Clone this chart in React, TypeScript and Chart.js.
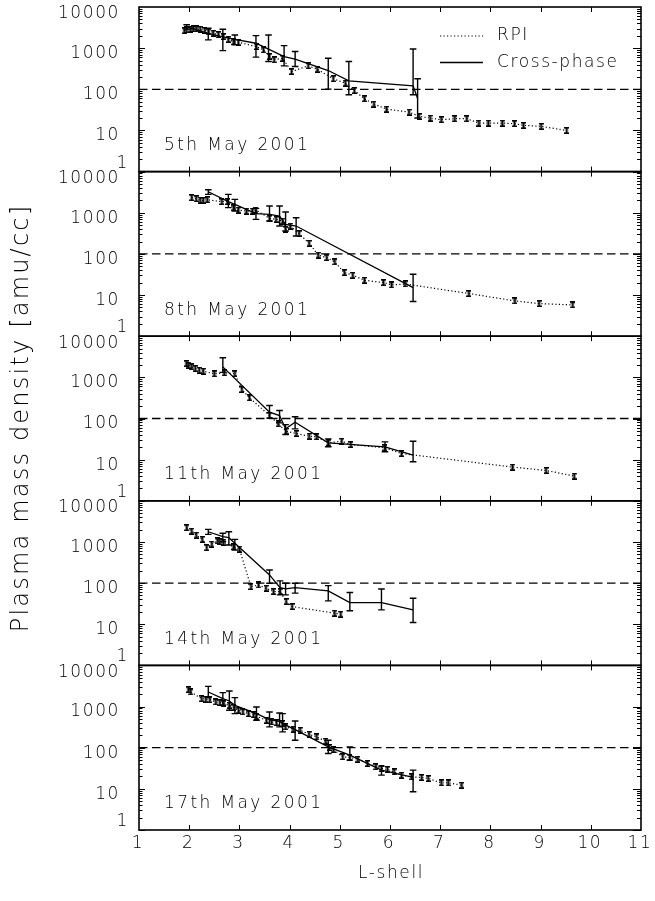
import React, { useEffect, useRef } from "react";
import { Chart, registerables } from "chart.js";
Chart.register(...registerables);

const X_TICKS = [1, 2, 3, 4, 5, 6, 7, 8, 9, 10, 11];
const Y_TICKS = [1, 10, 100, 1000, 10000];
const THRESHOLD = 100;
const PANEL_LABELS = ["5th May 2001", "8th May 2001", "11th May 2001", "14th May 2001", "17th May 2001"];
const X_TITLE = "L-shell";
const Y_TITLE = "Plasma mass density [amu/cc]";
const LEGEND = ["RPI", "Cross-phase"];

// ---- 5th May 2001 ----
const RPI1_L = [1.90, 1.95, 2.02, 2.08, 2.15, 2.22, 2.31, 2.39, 2.48, 2.58, 2.68, 2.78, 2.88, 2.98, 3.34, 3.48, 3.60, 3.69, 3.86, 4.04, 4.37, 4.55, 4.87, 5.11, 5.29, 5.49, 5.68, 5.93, 6.38, 6.58, 6.80, 7.02, 7.29, 7.53, 7.77, 7.96, 8.24, 8.48, 8.66, 9.01, 9.52];
const RPI1_V = [2670, 2770, 2880, 2930, 2930, 2880, 2670, 2480, 2300, 2130, 1900, 1640, 1420, 1390, 1090, 907, 625, 519, 570, 270, 371, 308, 180, 141, 93.5, 58.9, 43.8, 33, 27.9, 21.9, 20, 18.2, 19.3, 19.3, 15.1, 15.1, 15.1, 14.6, 13.3, 12.6, 10.0];
const CP1_L = [1.95, 2.38, 2.67, 2.91, 3.33, 3.58, 3.89, 4.11, 4.77, 5.18, 6.46, 6.55];
const CP1_V = [3300, 2300, 1870, 1640, 1316, 943, 625, 539, 286, 161, 122, 60];
const CP1_LO = [2900, 1585, 873, 1200, 604, 472, 371, 357, 101, 74, 74, 20];
const CP1_HI = [3700, 3040, 2880, 2095, 2018, 2095, 1150, 826, 570, 472, 955, 180];

// ---- 8th May 2001 ----
const RPI2_L = [2.05, 2.14, 2.22, 2.28, 2.36, 2.65, 2.76, 2.88, 2.98, 3.14, 3.26, 3.33, 3.60, 3.73, 3.86, 3.92, 4.01, 4.19, 4.39, 4.57, 4.74, 4.90, 5.09, 5.26, 5.49, 5.87, 6.03, 6.30, 7.57, 8.49, 8.97, 9.64];
const RPI2_V = [2325, 2190, 2030, 2000, 2075, 1860, 1860, 1330, 1165, 1100, 1100, 1165, 731, 692, 630, 395, 476, 310, 181, 94, 81, 63.6, 35.2, 30.3, 22.9, 20.1, 17.6, 18.6, 10.9, 7.2, 6.2, 5.75];
const CP2_L = [2.38, 2.78, 2.91, 3.33, 3.60, 3.80, 3.92, 4.13, 6.46];
const CP2_V = [3245, 1860, 1600, 950, 914, 834, 522, 476, 15.2];
const CP2_LO = [2800, 1330, 1100, 692, 630, 476, 361, 272, 6.95];
const CP2_HI = [3630, 2800, 2115, 1280, 1456, 1456, 1042, 759, 32];

// ---- 11th May 2001 ----
const RPI3_L = [1.94, 1.98, 2.05, 2.12, 2.20, 2.28, 2.50, 2.70, 2.91, 3.05, 3.20, 3.60, 3.77, 3.93, 4.13, 4.39, 4.54, 4.77, 5.04, 5.22, 5.90, 6.23, 8.44, 9.11, 9.67];
const RPI3_V = [2170, 1980, 1800, 1640, 1490, 1410, 1217, 1290, 1217, 508, 319, 118, 74, 49.2, 43.2, 37.2, 35.9, 25.7, 28.1, 23.3, 19.4, 14.1, 6.6, 5.46, 3.98];
const CP3_L = [2.67, 3.60, 3.80, 3.92, 4.11, 4.77, 5.90, 6.46];
const CP3_V = [1800, 142, 118, 56, 81.3, 25.7, 20.5, 12.8];
const CP3_LO = [1320, 102, 78.5, 41, 56, 20.5, 15.5, 8.9];
const CP3_HI = [2985, 207, 156, 71, 110, 32, 27, 28];

// ---- 14th May 2001 ----
const RPI4_L = [1.95, 2.05, 2.14, 2.26, 2.35, 2.45, 2.56, 2.61, 2.68, 2.88, 3.00, 3.23, 3.38, 3.53, 3.68, 3.81, 3.93, 4.05, 4.90, 5.02];
const RPI4_V = [2217, 1842, 1473, 1158, 726, 891, 1055, 1014, 977, 767, 674, 82, 90, 75, 62.4, 62.4, 35.6, 26.9, 18.6, 17.6];
const CP4_L = [2.38, 2.67, 2.79, 2.91, 3.60, 3.81, 3.92, 4.11, 4.77, 5.20, 5.83, 6.46];
const CP4_V = [1770, 1340, 1268, 927, 158, 77.8, 72.3, 77.8, 64.7, 33.7, 33.7, 22.4];
const CP4_LO = [1531, 1014, 843, 638, 99, 51.8, 51.8, 57, 37, 21.2, 22.4, 11];
const CP4_HI = [2023, 1622, 1770, 1158, 209, 113, 99, 99, 87, 59, 72, 43];

// ---- 17th May 2001 ----
const RPI5_L = [1.98, 2.03, 2.25, 2.33, 2.41, 2.53, 2.61, 2.69, 2.80, 2.89, 2.98, 3.07, 3.18, 3.28, 3.34, 3.54, 3.64, 3.74, 3.86, 3.92, 4.07, 4.21, 4.39, 4.54, 4.72, 4.79, 4.87, 5.06, 5.20, 5.36, 5.55, 5.72, 5.83, 5.95, 6.08, 6.23, 6.43, 6.63, 6.76, 7.02, 7.16, 7.43];
const RPI5_V = [2573, 2258, 1556, 1500, 1473, 1292, 1245, 1178, 1072, 942, 811, 739, 673, 637, 580, 464, 423, 407, 385, 320, 281, 266, 212, 183, 144, 101, 90.3, 60, 57.8, 52.6, 41.3, 34.3, 31.3, 29.6, 25.9, 21.5, 19.6, 18.9, 17.9, 14.0, 14.0, 12.3];
const CP5_L = [2.38, 2.67, 2.80, 2.91, 3.34, 3.60, 3.80, 3.86, 4.11, 4.77, 5.20, 5.83, 6.46];
const CP5_V = [2258, 1556, 1365, 1072, 673, 482, 439, 385, 276, 105, 65.8, 28.5, 18.9];
const CP5_LO = [1645, 1072, 811, 673, 464, 320, 320, 242, 152, 72, 49.8, 21.5, 8.5];
const CP5_HI = [3100, 2175, 2385, 1645, 977, 739, 698, 673, 446, 152, 105, 35.6, 28.5];

const PANELS = [
  { rl: RPI1_L, rv: RPI1_V, cl: CP1_L, cv: CP1_V, lo: CP1_LO, hi: CP1_HI },
  { rl: RPI2_L, rv: RPI2_V, cl: CP2_L, cv: CP2_V, lo: CP2_LO, hi: CP2_HI },
  { rl: RPI3_L, rv: RPI3_V, cl: CP3_L, cv: CP3_V, lo: CP3_LO, hi: CP3_HI },
  { rl: RPI4_L, rv: RPI4_V, cl: CP4_L, cv: CP4_V, lo: CP4_LO, hi: CP4_HI },
  { rl: RPI5_L, rv: RPI5_V, cl: CP5_L, cv: CP5_V, lo: CP5_LO, hi: CP5_HI },
];

const FONT = '200 17px "DejaVu Sans"';
const TITLE_FONT = '200 24px "DejaVu Sans"';
const INK = "#000";

function makeMarker() {
  const c = document.createElement("canvas");
  c.width = 5;
  c.height = 7;
  const g = c.getContext("2d")!;
  g.fillStyle = "#000";
  g.fillRect(0, 0, 5, 1.6);
  g.fillRect(0, 5.4, 5, 1.6);
  g.fillRect(1.5, 0, 2, 7);
  return c;
}

const decoPlugin = {
  id: "deco",
  afterDatasetsDraw(chart: any) {
    const ctx = chart.ctx;
    ctx.save();
    ctx.strokeStyle = "#000";
    ctx.lineWidth = 1.4;
    chart.data.datasets.forEach((ds: any, di: number) => {
      if (!ds.errLo) return;
      const meta = chart.getDatasetMeta(di);
      const ys = chart.scales[ds.yAxisID];
      meta.data.forEach((pt: any, k: number) => {
        const x = pt.x;
        const y1 = ys.getPixelForValue(ds.errLo[k]);
        const y2 = ys.getPixelForValue(ds.errHi[k]);
        ctx.beginPath();
        ctx.moveTo(x, y1);
        ctx.lineTo(x, y2);
        ctx.moveTo(x - 3.3, y1);
        ctx.lineTo(x + 3.3, y1);
        ctx.moveTo(x - 3.3, y2);
        ctx.lineTo(x + 3.3, y2);
        ctx.stroke();
      });
    });
    ctx.restore();
  },
  afterDraw(chart: any) {
    const ctx = chart.ctx;
    const xs = chart.scales.x;
    const area = chart.chartArea;
    ctx.save();
    ctx.strokeStyle = "#000";
    ctx.fillStyle = INK;
    ctx.font = FONT;
    (ctx as any).letterSpacing = "1.6px";
    PANELS.forEach((_p, i) => {
      const s = chart.scales["p" + i];
      const top = s.top;
      const bottom = s.bottom;
      ctx.lineWidth = 1.6;
      ctx.strokeRect(area.left, top, area.right - area.left, bottom - top);
      ctx.lineWidth = 1;
      ctx.beginPath();
      for (let d = 0; d < 4; d++) {
        for (let m = 1; m <= 9; m++) {
          const v = m * Math.pow(10, d);
          const y = Math.round(s.getPixelForValue(v)) + 0.5;
          const lenL = m === 1 ? 6 : 3.5;
          const lenR = m === 1 ? 8 : 4;
          ctx.moveTo(area.left, y);
          ctx.lineTo(area.left + lenL, y);
          ctx.moveTo(area.right, y);
          ctx.lineTo(area.right - lenR, y);
        }
      }
      X_TICKS.forEach((t) => {
        if (t === X_TICKS[0] || t === X_TICKS[X_TICKS.length - 1]) return;
        const x = Math.round(xs.getPixelForValue(t)) + 0.5;
        ctx.moveTo(x, top);
        ctx.lineTo(x, top + 5);
        ctx.moveTo(x, bottom);
        ctx.lineTo(x, bottom - 5);
      });
      ctx.stroke();

      ctx.textBaseline = "middle";
      (ctx as any).letterSpacing = "1.6px";
      Y_TICKS.forEach((v) => {
        const y = s.getPixelForValue(v);
        ctx.textAlign = "right";
        if (v === 1) {
          ctx.fillText(String(v), 129, y - 8.5);
        } else {
          ctx.fillText(String(v), 120, y + (v === 10000 ? 7 : 5.5));
        }
      });
      ctx.textAlign = "left";
      (ctx as any).letterSpacing = "2.4px";
      ctx.fillText(PANEL_LABELS[i], 164, bottom - 26);
    });

    (ctx as any).letterSpacing = "1.6px";
    ctx.textAlign = "center";
    ctx.textBaseline = "middle";
    X_TICKS.forEach((t) => {
      const x = xs.getPixelForValue(t);
      ctx.fillText(String(t), x - 1, 844);
    });
    ctx.fillText(X_TITLE, (area.left + area.right) / 2 + 1, 874);

    const p0 = chart.scales.p0;
    const ly1 = p0.top + 29;
    const ly2 = p0.top + 55.5;
    ctx.lineWidth = 1.2;
    ctx.setLineDash([1.2, 2.3]);
    ctx.beginPath();
    ctx.moveTo(440, ly1);
    ctx.lineTo(483, ly1);
    ctx.stroke();
    ctx.setLineDash([]);
    ctx.lineWidth = 1.3;
    ctx.beginPath();
    ctx.moveTo(440, ly2);
    ctx.lineTo(483, ly2);
    ctx.stroke();
    ctx.textAlign = "left";
    ctx.fillText(LEGEND[0], 497, ly1);
    ctx.fillText(LEGEND[1], 497, ly2);

    ctx.save();
    ctx.font = TITLE_FONT;
    (ctx as any).letterSpacing = "2.2px";
    ctx.translate(22, 418);
    ctx.rotate(-Math.PI / 2);
    ctx.textAlign = "center";
    ctx.textBaseline = "middle";
    ctx.fillText(Y_TITLE, 0, 0);
    ctx.restore();

    ctx.restore();
  },
};

export default function App() {
  const ref = useRef<HTMLCanvasElement>(null);
  useEffect(() => {
    const canvas = ref.current!;
    const marker = makeMarker();
    const datasets: any[] = [];
    const scales: any = {
      x: {
        type: "linear",
        min: 1,
        max: 11,
        position: "bottom",
        grid: { display: false },
        border: { display: false },
        ticks: { display: false },
        afterFit: (sc: any) => {
          sc.height = 71;
        },
      },
    };
    // stacked scales are placed bottom-up, so register the lowest panel first
    for (let i = PANELS.length - 1; i >= 0; i--) {
      scales["p" + i] = {
        type: "logarithmic",
        min: 1,
        max: 10000,
        position: "left",
        stack: "panels",
        stackWeight: 1,
        grid: { display: false },
        border: { display: false },
        ticks: { display: false },
        afterFit: (sc: any) => {
          sc.width = 139;
        },
      };
    }
    PANELS.forEach((p, i) => {
      const id = "p" + i;
      datasets.push({
        label: "threshold",
        data: [
          { x: X_TICKS[0], y: THRESHOLD },
          { x: X_TICKS[X_TICKS.length - 1], y: THRESHOLD },
        ],
        yAxisID: id,
        borderColor: "#000",
        borderWidth: 1.3,
        borderDash: [8.5, 4.5],
        pointRadius: 0,
        tension: 0,
      });
      datasets.push({
        label: LEGEND[0],
        data: p.rl.map((l, k) => ({ x: l, y: p.rv[k] })),
        yAxisID: id,
        borderColor: "#000",
        borderWidth: 1.2,
        borderDash: [1.2, 2.3],
        pointStyle: marker,
        pointRadius: 3,
        tension: 0,
      });
      datasets.push({
        label: LEGEND[1],
        data: p.cl.map((l, k) => ({ x: l, y: p.cv[k] })),
        errLo: p.lo,
        errHi: p.hi,
        yAxisID: id,
        borderColor: "#000",
        borderWidth: 1.3,
        pointRadius: 0,
        tension: 0,
      });
    });

    const chart = new Chart(canvas, {
      type: "line",
      data: { datasets },
      options: {
        responsive: false,
        animation: false,
        devicePixelRatio: 1,
        layout: { padding: { top: 7, right: 14, left: 0, bottom: 0 } },
        plugins: { legend: { display: false }, tooltip: { enabled: false } },
        scales,
      } as any,
      plugins: [decoPlugin],
    });
    return () => chart.destroy();
  }, []);
  return (
    <div style={{ position: "absolute", left: 0, top: 0, width: 655, height: 901, background: "#fff" }}>
      <canvas ref={ref} width={655} height={901} style={{ display: "block" }} />
    </div>
  );
}
